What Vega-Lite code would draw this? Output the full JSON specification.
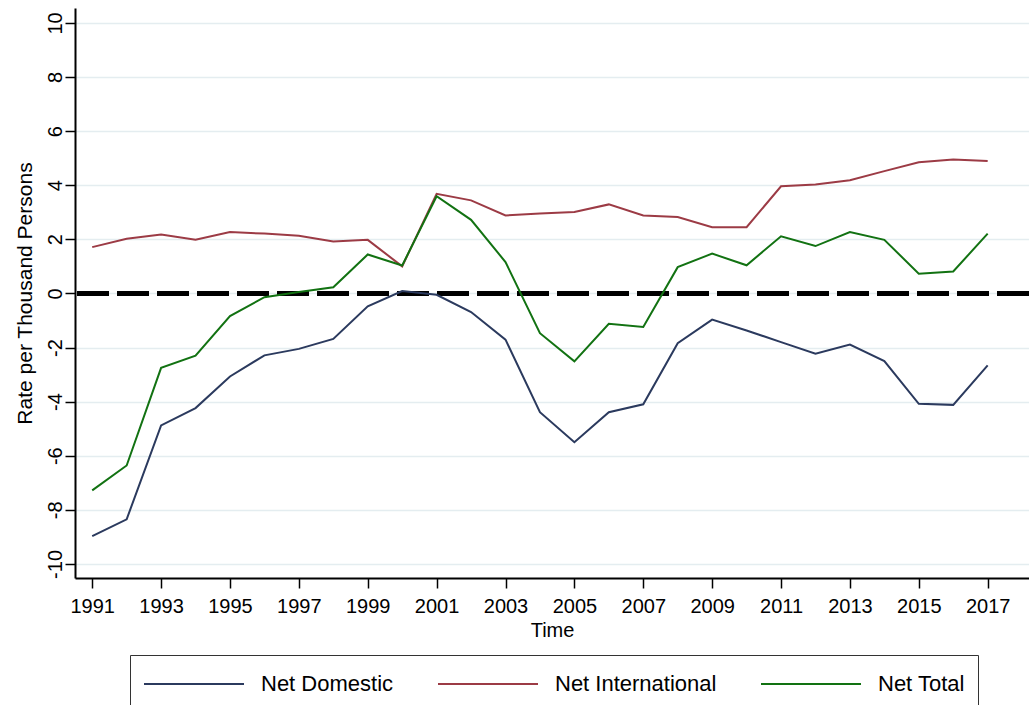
{
  "$schema": "https://vega.github.io/schema/vega-lite/v6.json",
  "width": 954,
  "height": 570,
  "autosize": {"type": "none"},
  "padding": {"left": 75, "top": 8, "right": 0, "bottom": 127},
  "background": "white",
  "config": {
    "view": {"stroke": null},
    "font": "Liberation Sans",
    "axis": {
      "domainColor": "black",
      "domainWidth": 2,
      "tickColor": "black",
      "tickWidth": 1.5,
      "tickSize": 10,
      "labelColor": "black",
      "titleColor": "black",
      "labelFont": "Liberation Sans",
      "titleFont": "Liberation Sans",
      "titleFontWeight": "normal",
      "labelFontSize": 20,
      "titleFontSize": 20
    }
  },
  "data": {
    "values": [
      {"year": 1991, "series": "Net Domestic", "value": -8.97},
      {"year": 1992, "series": "Net Domestic", "value": -8.35},
      {"year": 1993, "series": "Net Domestic", "value": -4.88},
      {"year": 1994, "series": "Net Domestic", "value": -4.24},
      {"year": 1995, "series": "Net Domestic", "value": -3.07},
      {"year": 1996, "series": "Net Domestic", "value": -2.29},
      {"year": 1997, "series": "Net Domestic", "value": -2.05},
      {"year": 1998, "series": "Net Domestic", "value": -1.68},
      {"year": 1999, "series": "Net Domestic", "value": -0.48},
      {"year": 2000, "series": "Net Domestic", "value": 0.09},
      {"year": 2001, "series": "Net Domestic", "value": -0.05},
      {"year": 2002, "series": "Net Domestic", "value": -0.69},
      {"year": 2003, "series": "Net Domestic", "value": -1.71},
      {"year": 2004, "series": "Net Domestic", "value": -4.39},
      {"year": 2005, "series": "Net Domestic", "value": -5.5},
      {"year": 2006, "series": "Net Domestic", "value": -4.39},
      {"year": 2007, "series": "Net Domestic", "value": -4.1},
      {"year": 2008, "series": "Net Domestic", "value": -1.84},
      {"year": 2009, "series": "Net Domestic", "value": -0.97},
      {"year": 2010, "series": "Net Domestic", "value": -1.37},
      {"year": 2011, "series": "Net Domestic", "value": -1.8},
      {"year": 2012, "series": "Net Domestic", "value": -2.23},
      {"year": 2013, "series": "Net Domestic", "value": -1.89},
      {"year": 2014, "series": "Net Domestic", "value": -2.5},
      {"year": 2015, "series": "Net Domestic", "value": -4.08},
      {"year": 2016, "series": "Net Domestic", "value": -4.12},
      {"year": 2017, "series": "Net Domestic", "value": -2.66},
      {"year": 1991, "series": "Net International", "value": 1.71},
      {"year": 1992, "series": "Net International", "value": 2.02},
      {"year": 1993, "series": "Net International", "value": 2.18},
      {"year": 1994, "series": "Net International", "value": 1.98},
      {"year": 1995, "series": "Net International", "value": 2.27},
      {"year": 1996, "series": "Net International", "value": 2.21},
      {"year": 1997, "series": "Net International", "value": 2.13},
      {"year": 1998, "series": "Net International", "value": 1.92},
      {"year": 1999, "series": "Net International", "value": 1.98},
      {"year": 2000, "series": "Net International", "value": 1.0},
      {"year": 2001, "series": "Net International", "value": 3.68},
      {"year": 2002, "series": "Net International", "value": 3.44},
      {"year": 2003, "series": "Net International", "value": 2.88},
      {"year": 2004, "series": "Net International", "value": 2.95},
      {"year": 2005, "series": "Net International", "value": 3.01},
      {"year": 2006, "series": "Net International", "value": 3.29},
      {"year": 2007, "series": "Net International", "value": 2.88},
      {"year": 2008, "series": "Net International", "value": 2.82},
      {"year": 2009, "series": "Net International", "value": 2.45},
      {"year": 2010, "series": "Net International", "value": 2.45},
      {"year": 2011, "series": "Net International", "value": 3.96},
      {"year": 2012, "series": "Net International", "value": 4.03},
      {"year": 2013, "series": "Net International", "value": 4.18},
      {"year": 2014, "series": "Net International", "value": 4.52},
      {"year": 2015, "series": "Net International", "value": 4.85},
      {"year": 2016, "series": "Net International", "value": 4.95},
      {"year": 2017, "series": "Net International", "value": 4.89},
      {"year": 1991, "series": "Net Total", "value": -7.28},
      {"year": 1992, "series": "Net Total", "value": -6.36},
      {"year": 1993, "series": "Net Total", "value": -2.75},
      {"year": 1994, "series": "Net Total", "value": -2.3},
      {"year": 1995, "series": "Net Total", "value": -0.84},
      {"year": 1996, "series": "Net Total", "value": -0.14},
      {"year": 1997, "series": "Net Total", "value": 0.05},
      {"year": 1998, "series": "Net Total", "value": 0.23},
      {"year": 1999, "series": "Net Total", "value": 1.44},
      {"year": 2000, "series": "Net Total", "value": 1.03},
      {"year": 2001, "series": "Net Total", "value": 3.59},
      {"year": 2002, "series": "Net Total", "value": 2.72},
      {"year": 2003, "series": "Net Total", "value": 1.16},
      {"year": 2004, "series": "Net Total", "value": -1.47},
      {"year": 2005, "series": "Net Total", "value": -2.51},
      {"year": 2006, "series": "Net Total", "value": -1.12},
      {"year": 2007, "series": "Net Total", "value": -1.24},
      {"year": 2008, "series": "Net Total", "value": 0.97},
      {"year": 2009, "series": "Net Total", "value": 1.47},
      {"year": 2010, "series": "Net Total", "value": 1.04},
      {"year": 2011, "series": "Net Total", "value": 2.11},
      {"year": 2012, "series": "Net Total", "value": 1.75},
      {"year": 2013, "series": "Net Total", "value": 2.27},
      {"year": 2014, "series": "Net Total", "value": 1.98},
      {"year": 2015, "series": "Net Total", "value": 0.73},
      {"year": 2016, "series": "Net Total", "value": 0.81},
      {"year": 2017, "series": "Net Total", "value": 2.21}
    ]
  },
  "layer": [
    {
      "mark": {"type": "rule", "color": "black", "strokeWidth": 4, "strokeDash": [32, 8]},
      "encoding": {"y": {"datum": 0, "type": "quantitative"}}
    },
    {
      "mark": {"type": "line", "strokeWidth": 2},
      "encoding": {
        "x": {
          "field": "year",
          "type": "quantitative",
          "scale": {"domain": [1990.5, 2018.2], "nice": false, "zero": false},
          "axis": {
            "title": "Time",
            "values": [1991, 1993, 1995, 1997, 1999, 2001, 2003, 2005, 2007, 2009, 2011, 2013, 2015, 2017],
            "format": "d",
            "grid": false,
            "labelPadding": 8,
            "titlePadding": 4,
            "labelFlush": false,
            "labelOverlap": false
          }
        },
        "y": {
          "field": "value",
          "type": "quantitative",
          "scale": {"domain": [-10.52, 10.55], "nice": false, "zero": false},
          "axis": {
            "title": "Rate per Thousand Persons",
            "titleFontSize": 21,
            "values": [-10, -8, -6, -4, -2, 0, 2, 4, 6, 8, 10],
            "labelExpr": "datum.value < 0 ? '-' + abs(datum.value) : '' + datum.value",
            "grid": true,
            "gridColor": "#e4edf0",
            "gridWidth": 1.5,
            "labelAngle": 270,
            "labelAlign": "center",
            "labelBaseline": "bottom",
            "labelPadding": 0,
            "titlePadding": 10,
            "labelFlush": false,
            "labelOverlap": false
          }
        },
        "color": {
          "field": "series",
          "type": "nominal",
          "scale": {
            "domain": ["Net Domestic", "Net International", "Net Total"],
            "range": ["#2b3a5e", "#9c3b45", "#127212"]
          },
          "legend": {
            "title": null,
            "orient": "none",
            "legendX": 55,
            "legendY": 647,
            "direction": "horizontal",
            "symbolType": "M-1,0H5.667",
            "symbolSize": 900,
            "symbolStrokeWidth": 2,
            "labelFont": "Liberation Sans",
            "labelFontSize": 22,
            "labelColor": "black",
            "labelOffset": 86,
            "columnPadding": 40,
            "padding": 13,
            "strokeColor": "#333333",
            "fillColor": "white",
            "labelLimit": 400
          }
        }
      }
    }
  ]
}
